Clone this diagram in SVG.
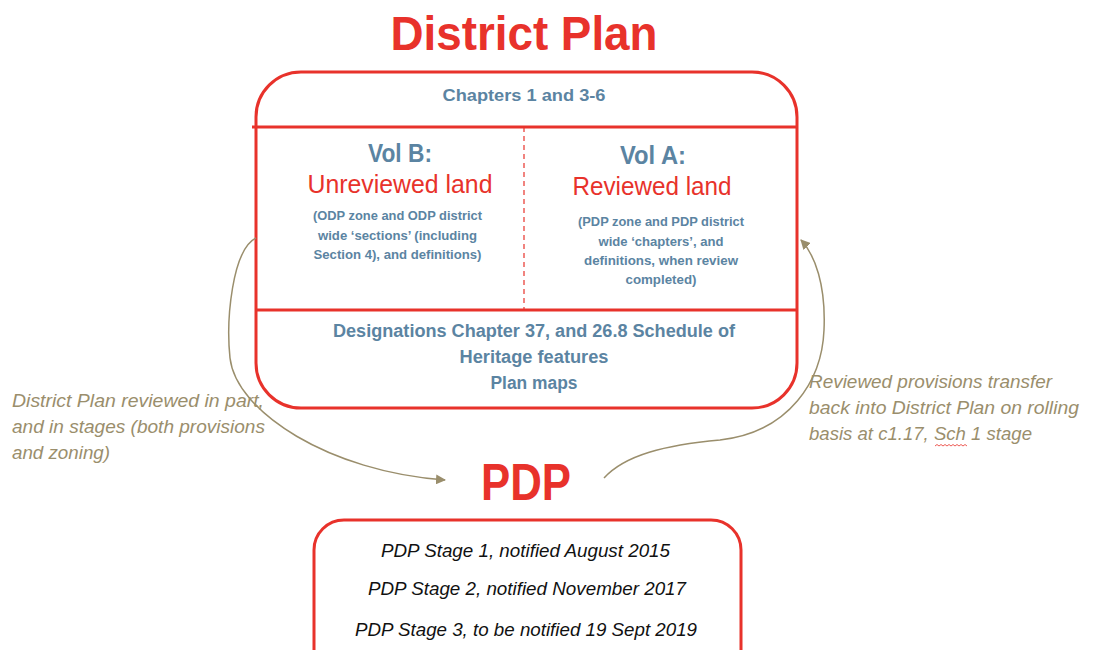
<svg xmlns="http://www.w3.org/2000/svg" width="1094" height="650" viewBox="0 0 1094 650">
<style>
.red{fill:#e8322b}
.blue{fill:#5b84a2}
.tan{fill:#9a8e6c}
.b{font-family:"Liberation Sans",Arial,sans-serif;font-weight:bold}
.r{font-family:"Liberation Sans",Arial,sans-serif}
.i{font-family:"Liberation Sans",Arial,sans-serif;font-style:italic}
.box{fill:none;stroke:#e8322b;stroke-width:3}
.conn{fill:none;stroke:#9a8e6c;stroke-width:1.5}
text{text-anchor:middle}
</style>
<defs>
<marker id="arr" viewBox="0 0 10 10" refX="9" refY="5" markerWidth="10" markerHeight="10" markerUnits="userSpaceOnUse" orient="auto">
<path d="M0,0 L10,5 L0,10 Z" fill="#9a8e6c"/>
</marker>
</defs>
<rect width="1094" height="650" fill="#ffffff"/>
<g id="title">
<text class="b red" x="524" y="50" font-size="48" textLength="267" lengthAdjust="spacingAndGlyphs">District Plan</text>
</g>
<g id="district-plan">
<rect class="box" x="256" y="72" width="541" height="336" rx="45" ry="45"/>
<line class="box" x1="252" y1="127" x2="798" y2="127"/>
<line class="box" x1="256" y1="310" x2="797" y2="310"/>
<line x1="524" y1="127" x2="524" y2="310" stroke="#e8322b" stroke-width="1.2" stroke-dasharray="5,4"/>
<text class="b blue" x="524" y="101" font-size="17" textLength="163" lengthAdjust="spacingAndGlyphs">Chapters 1 and 3-6</text>
</g>
<g id="vol-b">
<text class="b blue" x="400" y="162" font-size="25" textLength="64" lengthAdjust="spacingAndGlyphs">Vol B:</text>
<text class="r red" x="400" y="193" font-size="25" textLength="185" lengthAdjust="spacingAndGlyphs">Unreviewed land</text>
<text class="b blue" x="397.5" y="220" font-size="13" textLength="169" lengthAdjust="spacingAndGlyphs">(ODP zone and ODP district</text>
<text class="b blue" x="397.5" y="240" font-size="13" textLength="159" lengthAdjust="spacingAndGlyphs">wide ‘sections’ (including</text>
<text class="b blue" x="397.5" y="259" font-size="13" textLength="168" lengthAdjust="spacingAndGlyphs">Section 4), and definitions)</text>
</g>
<g id="vol-a">
<text class="b blue" x="653" y="164" font-size="25" textLength="66" lengthAdjust="spacingAndGlyphs">Vol A:</text>
<text class="r red" x="652" y="195" font-size="25" textLength="159" lengthAdjust="spacingAndGlyphs">Reviewed land</text>
<text class="b blue" x="661" y="226" font-size="13" textLength="166" lengthAdjust="spacingAndGlyphs">(PDP zone and PDP district</text>
<text class="b blue" x="661" y="246" font-size="13" textLength="125" lengthAdjust="spacingAndGlyphs">wide ‘chapters’, and</text>
<text class="b blue" x="661" y="265" font-size="13" textLength="154" lengthAdjust="spacingAndGlyphs">definitions, when review</text>
<text class="b blue" x="661" y="284" font-size="13" textLength="71" lengthAdjust="spacingAndGlyphs">completed)</text>
</g>
<g id="designations">
<text class="b blue" x="534" y="337" font-size="18" textLength="402" lengthAdjust="spacingAndGlyphs">Designations Chapter 37, and 26.8 Schedule of</text>
<text class="b blue" x="534" y="363" font-size="18" textLength="149" lengthAdjust="spacingAndGlyphs">Heritage features</text>
<text class="b blue" x="534" y="389" font-size="18" textLength="87" lengthAdjust="spacingAndGlyphs">Plan maps</text>
</g>
<g id="pdp-title">
<text class="b red" x="526" y="500" font-size="52" textLength="90" lengthAdjust="spacingAndGlyphs">PDP</text>
</g>
<g id="pdp-box">
<rect class="box" x="314" y="520" width="427" height="160" rx="30" ry="30"/>
<text class="i" x="525.5" y="557" font-size="18" fill="#111" textLength="289" lengthAdjust="spacingAndGlyphs">PDP Stage 1, notified August 2015</text>
<text class="i" x="527" y="595" font-size="18" fill="#111" textLength="318" lengthAdjust="spacingAndGlyphs">PDP Stage 2, notified November 2017</text>
<text class="i" x="526" y="636" font-size="18" fill="#111" textLength="342" lengthAdjust="spacingAndGlyphs">PDP Stage 3, to be notified 19 Sept 2019</text>
</g>
<g id="left-label">
<text class="i tan" x="12" y="407" font-size="18" style="text-anchor:start" textLength="252" lengthAdjust="spacingAndGlyphs">District Plan reviewed in part,</text>
<text class="i tan" x="12" y="433" font-size="18" style="text-anchor:start" textLength="253" lengthAdjust="spacingAndGlyphs">and in stages (both provisions</text>
<text class="i tan" x="12" y="459" font-size="18" style="text-anchor:start" textLength="98" lengthAdjust="spacingAndGlyphs">and zoning)</text>
</g>
<g id="right-label">
<text class="i tan" x="809" y="388" font-size="18" style="text-anchor:start" textLength="243" lengthAdjust="spacingAndGlyphs">Reviewed provisions transfer</text>
<text class="i tan" x="809" y="414" font-size="18" style="text-anchor:start" textLength="270" lengthAdjust="spacingAndGlyphs">back into District Plan on rolling</text>
<text class="i tan" x="809" y="440" font-size="18" style="text-anchor:start" textLength="223" lengthAdjust="spacingAndGlyphs">basis at c1.17, Sch 1 stage</text>
<path d="M935,446 l2,-1.5 l2,1.5 l2,-1.5 l2,1.5 l2,-1.5 l2,1.5 l2,-1.5 l2,1.5 l2,-1.5 l2,1.5 l2,-1.5 l2,1.5 l2,-1.5 l2,1.5 l2,-1.5 l2,1.5" fill="none" stroke="#e8322b" stroke-width="0.8"/>
</g>
<g id="connectors">
<path class="conn" d="M256,238 C232,250 226,320 230,358 C236,412 330,472 445,480" marker-end="url(#arr)"/>
<path class="conn" d="M604,478 C625,455 665,445 720,440 C790,432 822,380 824,330 C826,285 815,255 801,240" marker-end="url(#arr)"/>
</g>
</svg>
